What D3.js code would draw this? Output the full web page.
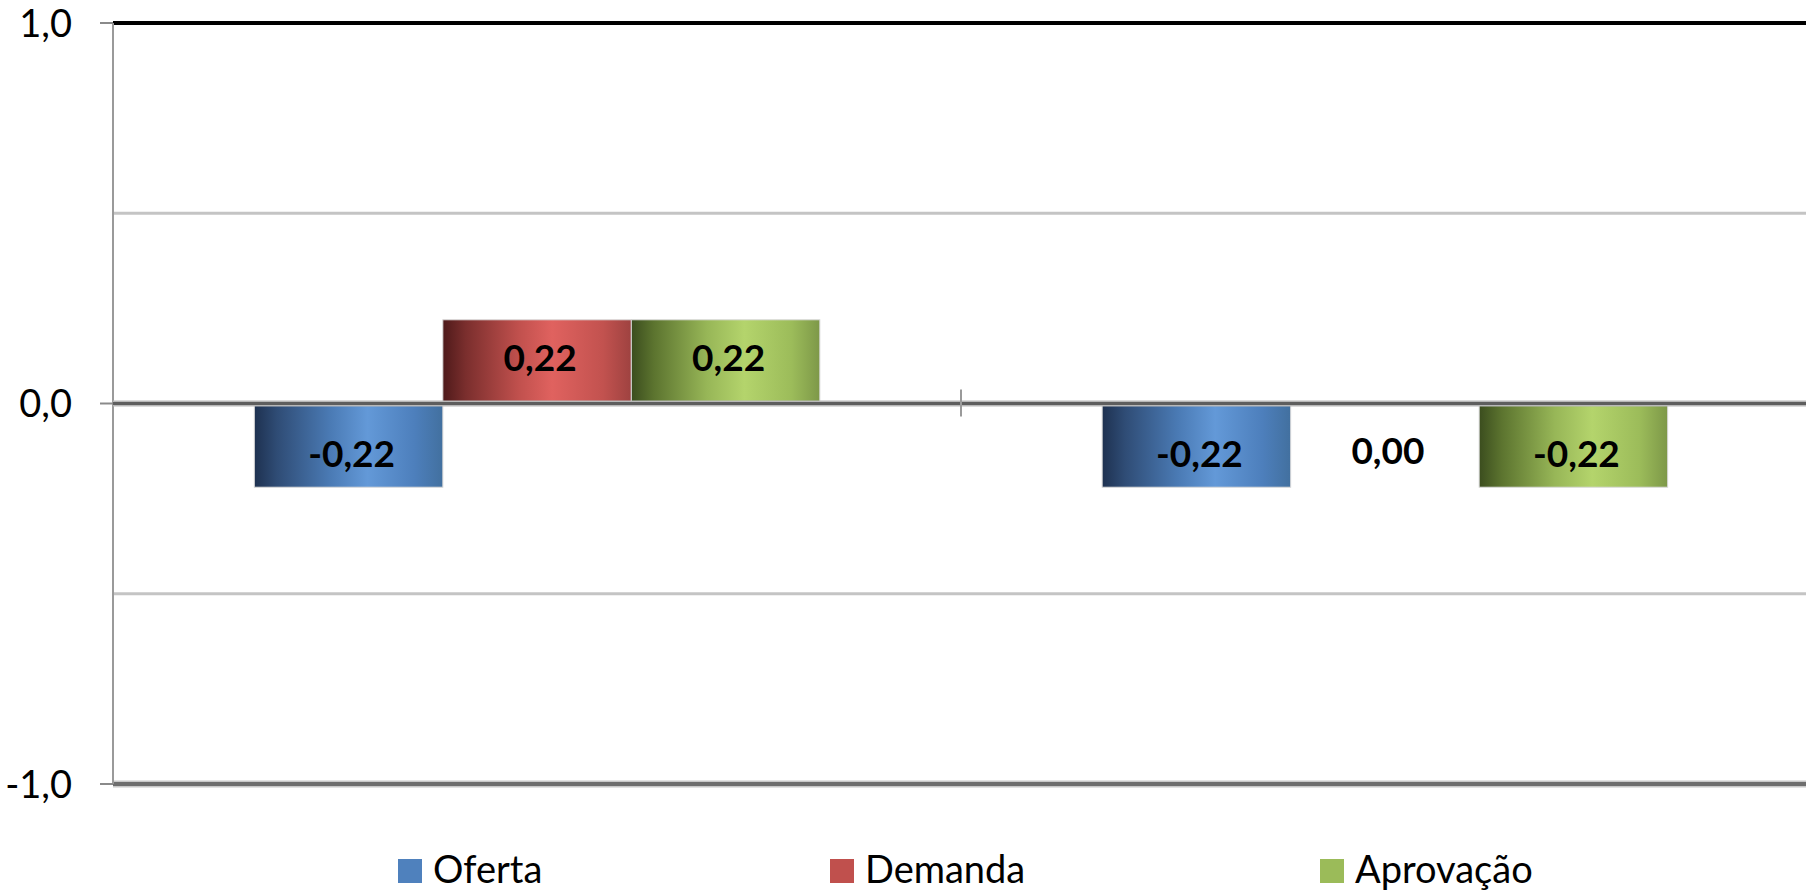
<!DOCTYPE html>
<html>
<head>
<meta charset="utf-8">
<script src="https://cdn.jsdelivr.net/npm/d3@7"></script>
<style>
  html, body { margin: 0; padding: 0; background: #ffffff; overflow: hidden; }
  svg { display: block; }
</style>
</head>
<body>
<svg id="chart" width="1806" height="890"></svg>
<script>
// ---- data ----
const categories = ["Grupo 1", "Grupo 2"];
const seriesNames = ["Oferta", "Demanda", "Aprovação"];
const oferta    = [-0.22, -0.22];
const demanda   = [ 0.22,  0.00];
const aprovacao = [ 0.22, -0.22];
const yTickValues = [-1, 0, 1];
const yGridValues = [-0.5, 0.5];
const seriesColors = ["#4f81bd", "#c0504d", "#9bbb59"];

const seriesValues = [oferta, demanda, aprovacao];
const rows = categories.map((c, i) => ({
  category: c,
  values: seriesNames.map((s, j) => ({ series: s, value: seriesValues[j][i], idx: j }))
}));

const loc = d3.formatLocale({ decimal: ",", thousands: ".", grouping: [3], currency: ["R$", ""], minus: "-" });
const fmt1 = loc.format(".1f");
const fmt2 = loc.format(".2f");

const svg = d3.select("#chart");
const pL = 113, pR = 1809, pT = 23, pB = 784;

const x0 = d3.scaleBand().domain(categories).range([pL, pR]).paddingInner(0.333).paddingOuter(0.1667);
const x1 = d3.scaleBand().domain(seriesNames).range([0, x0.bandwidth()]);
const y = d3.scaleLinear().domain([-1, 1]).range([pB, pT]);

// gradients
const defs = svg.append("defs");
const gradStops = [
  [["0%", "#1e3150"], ["12%", "#2f4c75"], ["40%", "#4a7ab4"], ["60%", "#6399d8"], ["85%", "#4d7fbc"], ["100%", "#42709f"]],
  [["0%", "#4e1a1a"], ["12%", "#7a2e2d"], ["40%", "#c0504d"], ["58%", "#e0625f"], ["85%", "#c2524f"], ["100%", "#9e4240"]],
  [["0%", "#3b4d1e"], ["12%", "#5c742f"], ["40%", "#97b657"], ["60%", "#b4d46c"], ["85%", "#9cbc5a"], ["100%", "#7d9848"]]
];
gradStops.forEach((stops, i) => {
  const g = defs.append("linearGradient").attr("id", "grad" + i)
    .attr("x1", "0%").attr("x2", "100%").attr("y1", "0%").attr("y2", "0%");
  stops.forEach(s => g.append("stop").attr("offset", s[0]).attr("stop-color", s[1]));
});

// gridlines
svg.append("g").selectAll("line").data(yGridValues).join("line")
  .attr("x1", pL).attr("x2", 1806)
  .attr("y1", d => y(d)).attr("y2", d => y(d))
  .attr("stroke", "#c4c4c4").attr("stroke-width", 3);

// top line at 1.0
svg.append("line").attr("x1", pL).attr("x2", 1806)
  .attr("y1", y(1)).attr("y2", y(1))
  .attr("stroke", "#000").attr("stroke-width", 4);

// bottom line at -1.0
svg.append("line").attr("x1", pL).attr("x2", 1806)
  .attr("y1", y(-1)).attr("y2", y(-1))
  .attr("stroke", "#c8c8c8").attr("stroke-width", 7);
svg.append("line").attr("x1", pL).attr("x2", 1806)
  .attr("y1", y(-1)).attr("y2", y(-1))
  .attr("stroke", "#6e6e6e").attr("stroke-width", 4);

// y axis line
svg.append("line").attr("x1", pL).attr("x2", pL)
  .attr("y1", y(1)).attr("y2", y(-1))
  .attr("stroke", "#9a9a9a").attr("stroke-width", 2);

// y ticks
svg.append("g").selectAll("line").data(yTickValues).join("line")
  .attr("x1", pL - 13).attr("x2", pL)
  .attr("y1", d => y(d)).attr("y2", d => y(d))
  .attr("stroke", "#8a8a8a").attr("stroke-width", 2);

svg.append("g").selectAll("text").data(yTickValues).join("text")
  .attr("x", 72).attr("y", d => y(d))
  .attr("dy", "0.36em")
  .attr("text-anchor", "end")
  .attr("font-family", "Lato, 'Open Sans', sans-serif")
  .attr("font-size", 38)
  .attr("fill", "#000")
  .text(d => fmt1(d));

// bars
const groups = svg.append("g").selectAll("g").data(rows).join("g")
  .attr("transform", d => `translate(${x0(d.category)},0)`);

groups.selectAll("rect").data(d => d.values.filter(v => v.value !== 0)).join("rect")
  .attr("x", d => x1(d.series))
  .attr("width", x1.bandwidth())
  .attr("y", d => d.value >= 0 ? y(d.value) : y(0) + 2)
  .attr("height", d => Math.abs(y(d.value) - y(0)) - (d.value < 0 ? 2 : 0))
  .attr("fill", d => `url(#grad${d.idx})`)
  .attr("stroke", "#d8d8d8")
  .attr("stroke-width", 1);

// zero axis line (drawn over bars)
svg.append("line").attr("x1", pL).attr("x2", 1806)
  .attr("y1", y(0)).attr("y2", y(0))
  .attr("stroke", "#b8b8b8").attr("stroke-width", 6);
svg.append("line").attr("x1", pL).attr("x2", 1806)
  .attr("y1", y(0)).attr("y2", y(0))
  .attr("stroke", "#5e5e5e").attr("stroke-width", 3);

// category separator tick
const sepX = x0(categories[1]) - x0.step() * x0.paddingInner() / 2;
svg.append("line").attr("x1", sepX).attr("x2", sepX)
  .attr("y1", y(0) - 14).attr("y2", y(0) + 13)
  .attr("stroke", "#9a9a9a").attr("stroke-width", 2);

// data labels
groups.selectAll("text").data(d => d.values).join("text")
  .attr("x", d => x1(d.series) + x1.bandwidth() / 2 + 3)
  .attr("y", d => d.value === 0 ? y(0) + 47 : (y(d.value) + y(0)) / 2 + (d.value < 0 ? 8 : -4))
  .attr("dy", "0.36em")
  .attr("text-anchor", "middle")
  .attr("font-family", "Lato, 'Open Sans', sans-serif")
  .attr("font-weight", "bold")
  .attr("font-size", 37)
  .attr("fill", "#000")
  .text(d => fmt2(d.value));

// legend
const legendX = [398, 830, 1320];
const legend = svg.append("g").selectAll("g").data(seriesNames).join("g")
  .attr("transform", (d, i) => `translate(${legendX[i]},859)`);
legend.append("rect").attr("width", 24).attr("height", 24)
  .attr("fill", (d, i) => seriesColors[i]);
legend.append("text").attr("x", 35).attr("y", 24)
  .attr("font-family", "Lato, 'Open Sans', sans-serif")
  .attr("font-size", 38)
  .attr("fill", "#000")
  .text(d => d);
</script>
</body>
</html>
